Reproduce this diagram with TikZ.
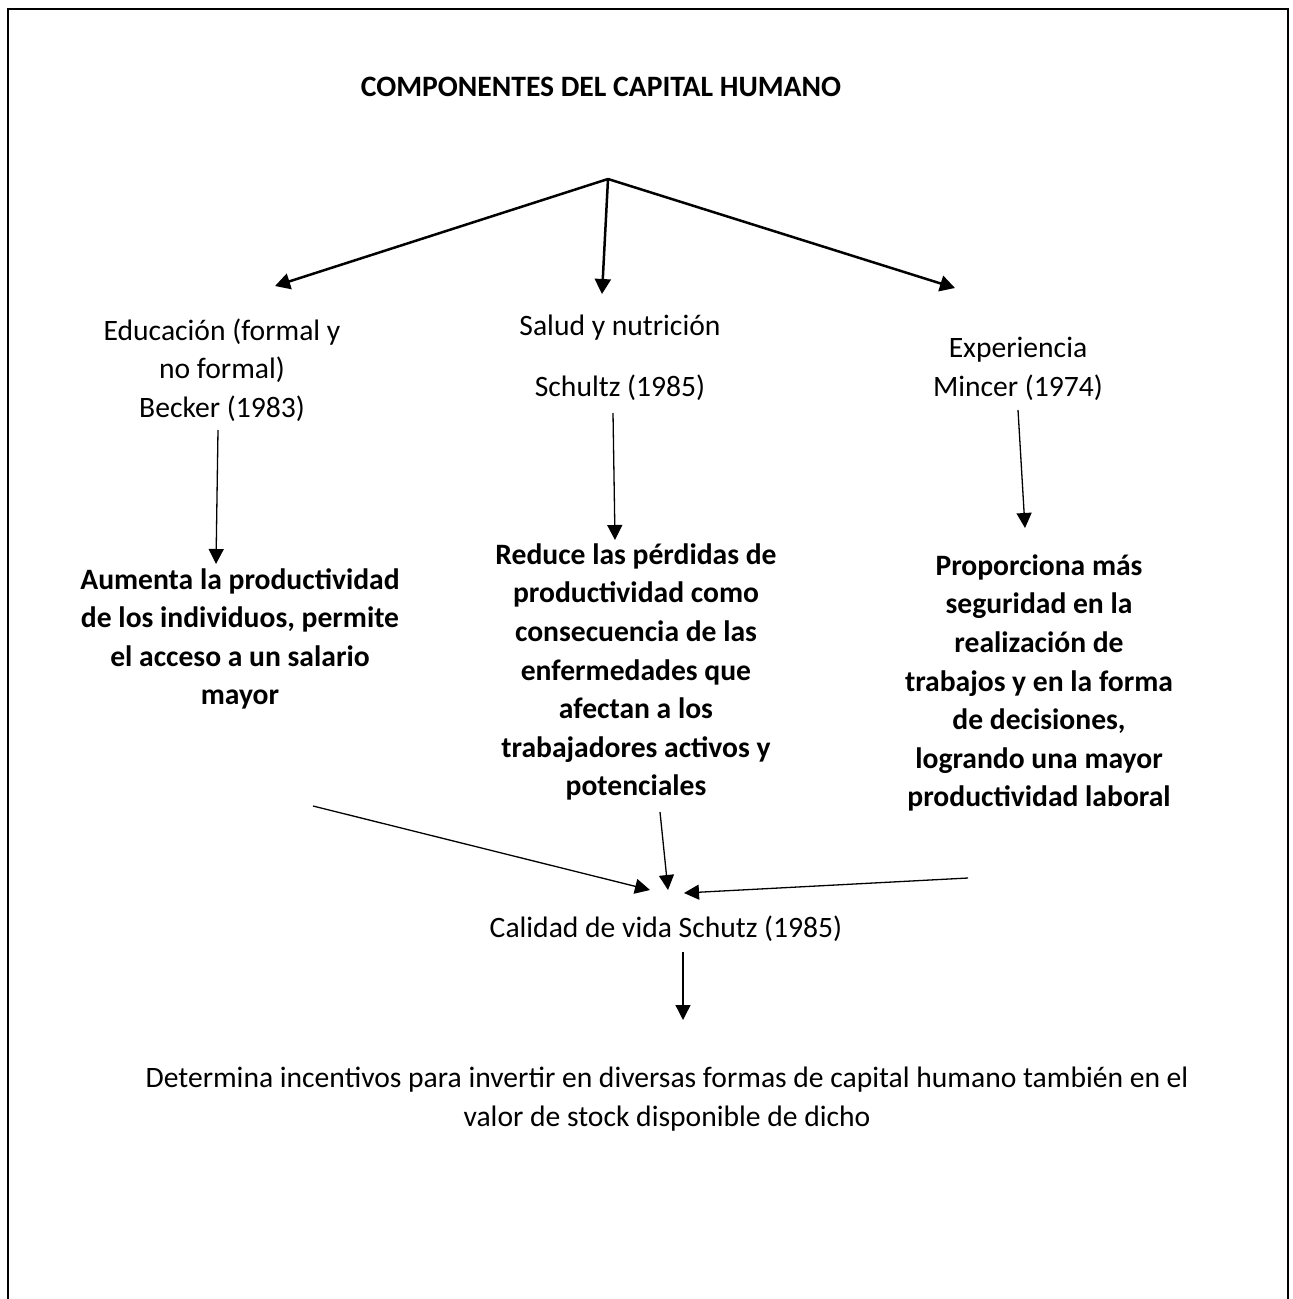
\documentclass[tikz,border=0pt]{standalone}
\usepackage{fontspec}
\setmainfont{Carlito}
\usetikzlibrary{arrows.meta}

\begin{document}
\begin{tikzpicture}[x=0.5pt,y=-0.5pt,
  every node/.style={inner sep=0pt, align=center, font=\fontsize{14.8}{19.3}\selectfont},
  strong/.style={font=\fontsize{14.8}{19.3}\selectfont\bfseries},
  frame/.style={line width=1.3pt},
  bigarrow/.style={line width=1.25pt, -{Triangle[length=7.5pt,width=8pt]}},
  smallarrow/.style={line width=0.65pt, -{Triangle[length=7.5pt,width=7.5pt]}},
]
\useasboundingbox (0,0) rectangle (1292,1299);
% open frame around the chart
\draw[frame] (8,1299) -- (8,9) -- (1288,9) -- (1288,1299);

% texts
\node[strong] (title) at (601,87) {COMPONENTES DEL CAPITAL HUMANO};
\node (edu) at (222,370) {Educación (formal y\\no formal)\\Becker (1983)};
\node (salud) at (620,358) {Salud y nutrición\\[11pt]Schultz (1985)};
\node (exp) at (1018,369) {Experiencia\\Mincer (1974)};
\node[strong] (aum) at (240,639) {Aumenta la productividad\\de los individuos, permite\\el acceso a un salario\\mayor};
\node[strong] (red) at (636,672) {Reduce las pérdidas de\\productividad como\\consecuencia de las\\enfermedades que\\afectan a los\\trabajadores activos y\\potenciales};
\node[strong] (prop) at (1039,683) {Proporciona más\\seguridad en la\\realización de\\trabajos y en la forma\\de decisiones,\\logrando una mayor\\productividad laboral};
\node (cal) at (666,929) {Calidad de vida Schutz (1985)};
\node (det) at (667,1099) {Determina incentivos para invertir en diversas formas de capital humano también en el\\valor de stock disponible de dicho};

% connector end points
\coordinate (hub) at (608,179);
\coordinate (eduIn) at (275,286);
\coordinate (saludIn) at (602,294);
\coordinate (expIn) at (955,288);
\coordinate (eduOut) at (218,430);
\coordinate (aumIn) at (216,564);
\coordinate (saludOut) at (613,413);
\coordinate (redIn) at (615,540);
\coordinate (expOut) at (1018,410);
\coordinate (propIn) at (1025,528);
\coordinate (aumOut) at (313,806);
\coordinate (calInA) at (650,890);
\coordinate (redOut) at (660,812);
\coordinate (calInB) at (668,890);
\coordinate (propOut) at (968,878);
\coordinate (calInC) at (684,893);
\coordinate (calOut) at (683,952);
\coordinate (detIn) at (683,1020);

% connectors
\draw[bigarrow] (hub) -- (eduIn);
\draw[bigarrow] (hub) -- (saludIn);
\draw[bigarrow] (hub) -- (expIn);
\draw[smallarrow] (eduOut) -- (aumIn);
\draw[smallarrow] (saludOut) -- (redIn);
\draw[smallarrow] (expOut) -- (propIn);
\draw[smallarrow] (aumOut) -- (calInA);
\draw[smallarrow] (redOut) -- (calInB);
\draw[smallarrow] (propOut) -- (calInC);
\draw[smallarrow] (calOut) -- (detIn);
\end{tikzpicture}
\end{document}
